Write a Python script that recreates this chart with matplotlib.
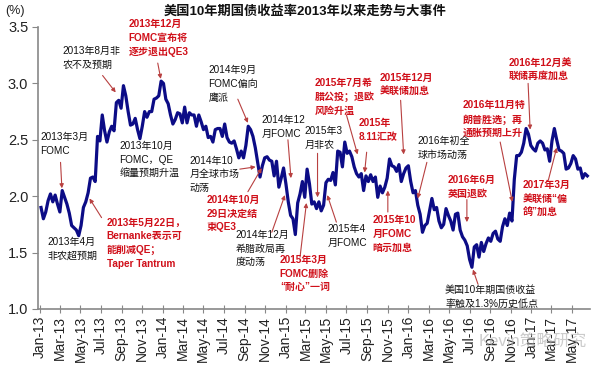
import matplotlib
matplotlib.use("Agg")
import matplotlib.pyplot as plt
import matplotlib.dates as mdates
import pandas as pd

plt.rcParams['font.family'] = ['Liberation Sans', 'Noto Sans CJK SC', 'DejaVu Sans']

# weekly (Friday) US 10Y treasury yield, %
y2013 = [1.90, 1.80, 1.86, 1.96,              # Jan
         2.02, 1.95, 2.01, 1.93,              # Feb
         1.86, 2.05, 1.99, 1.93, 1.85,        # Mar
         1.74, 1.72, 1.70, 1.65,              # Apr
         1.74, 1.90, 1.95, 2.03, 2.16,        # May
         2.17, 2.13, 2.53, 2.49,              # Jun
         2.72, 2.58, 2.48, 2.57,              # Jul
         2.62, 2.58, 2.83, 2.85, 2.78,        # Aug
         2.98, 2.89, 2.75, 2.63,              # Sep
         2.64, 2.69, 2.59, 2.51,              # Oct
         2.62, 2.75, 2.70, 2.75, 2.75,        # Nov
         2.86, 2.87, 2.89, 3.02]              # Dec
y2014 = [3.00, 2.86, 2.82, 2.72, 2.64,        # Jan
         2.68, 2.74, 2.73, 2.65,              # Feb
         2.79, 2.65, 2.74, 2.72,              # Mar
         2.72, 2.62, 2.72, 2.66,              # Apr
         2.59, 2.62, 2.52, 2.53, 2.48,        # May
         2.59, 2.60, 2.60, 2.53,              # Jun
         2.64, 2.52, 2.48, 2.47,              # Jul
         2.49, 2.42, 2.34, 2.40, 2.34,        # Aug
         2.45, 2.62, 2.59, 2.53,              # Sep
         2.43, 2.30, 2.17, 2.27, 2.34,        # Oct
         2.35, 2.32, 2.31, 2.18,              # Nov
         2.31, 2.08, 2.16, 2.25]              # Dec
y2015 = [2.11, 1.95, 1.83, 1.80, 1.66,        # Jan
         1.94, 2.02, 2.13, 1.99,              # Feb
         2.24, 2.11, 1.93, 1.95,              # Mar
         1.89, 1.95, 1.87, 1.92,              # Apr
         2.12, 2.15, 2.14, 2.21, 2.10,        # May
         2.40, 2.39, 2.26, 2.48,              # Jun
         2.38, 2.40, 2.35, 2.26, 2.20,        # Jul
         2.17, 2.20, 2.05, 2.18,              # Aug
         2.13, 2.19, 2.13, 2.17,              # Sep
         1.99, 2.09, 2.03, 2.08, 2.16,        # Oct
         2.33, 2.27, 2.26, 2.22,              # Nov
         2.28, 2.13, 2.20, 2.25]              # Dec
y2016 = [2.27, 2.13, 2.03, 2.05, 1.92,        # Jan
         1.84, 1.68, 1.74, 1.76,              # Feb
         1.87, 1.98, 1.88, 1.90,              # Mar
         1.78, 1.72, 1.75, 1.89, 1.83,        # Apr
         1.78, 1.70, 1.84, 1.85,              # May
         1.70, 1.64, 1.61, 1.56,              # Jun
         1.44, 1.37, 1.55, 1.57, 1.46,        # Jul
         1.59, 1.51, 1.58, 1.63,              # Aug
         1.60, 1.67, 1.69, 1.62, 1.60,        # Sep
         1.73, 1.80, 1.74, 1.85,              # Oct
         1.78, 2.15, 2.36, 2.36,              # Nov
         2.39, 2.47, 2.60, 2.55, 2.45]        # Dec
y2017 = [2.42, 2.40, 2.47, 2.49,              # Jan
         2.47, 2.41, 2.42, 2.31,              # Feb
         2.49, 2.60, 2.50, 2.41, 2.40,        # Mar
         2.38, 2.24, 2.25, 2.29,              # Apr
         2.36, 2.33, 2.24, 2.25,              # May
         2.16, 2.20, 2.18]                    # Jun
yields = y2013 + y2014 + y2015 + y2016 + y2017
dates = pd.date_range('2013-01-04', periods=len(yields), freq='W-FRI')

# (text, colour, text top-left (date, %), arrow tail, arrow head)
BLK = '#111111'
RED = '#d0101a'
notes = [
    ("2013年3月\nFOMC", BLK, ('2013-01-01', 2.57), ('2013-03-03', 2.30), ('2013-03-07', 2.07)),
    ("2013年4月\n非农超预期", BLK, ('2013-01-22', 1.64), None, None),
    ("2013年8月非\n农不及预期", BLK, ('2013-03-09', 3.33), ('2013-07-06', 3.07), ('2013-08-14', 2.92)),
    ("2013年12月\nFOMC宣布将\n逐步退出QE3", RED, ('2013-09-22', 3.57), ('2013-12-17', 3.18), ('2013-12-26', 3.04)),
    ("2013年10月\nFOMC，QE\n缩量预期升温", BLK, ('2013-08-25', 2.49), None, None),
    ("2013年5月22日，\nBernanke表示可\n能削减QE；\nTaper Tantrum", RED, ('2013-07-18', 1.81),
     ('2013-07-03', 1.81), ('2013-05-28', 1.98)),
    ("2014年9月\nFOMC偏向\n鹰派", BLK, ('2014-05-16', 3.16), ('2014-08-12', 2.86), ('2014-09-11', 2.65)),
    ("2014年10\n月全球市场\n动荡", BLK, ('2014-03-21', 2.36), ('2014-08-18', 2.24), ('2014-10-04', 2.26)),
    ("2014年10月\n29日决定结\n束QE3", RED, ('2014-05-10', 2.01), ('2014-09-11', 2.04), ('2014-10-22', 2.25)),
    ("2014年12\n月FOMC", BLK, ('2014-10-22', 2.72), ('2015-01-08', 2.50), ('2015-01-17', 2.16)),
    ("2014年12月\n希腊政局再\n度动荡", BLK, ('2014-08-05', 1.70), ('2014-11-21', 1.68), ('2014-12-30', 2.01)),
    ("2015年3月\nFOMC删除\n“耐心”一词", RED, ('2014-12-15', 1.48), ('2015-02-13', 1.46), ('2015-03-04', 1.94)),
    ("2015年3\n月非农", BLK, ('2015-02-27', 2.62), ('2015-04-06', 2.38), ('2015-04-06', 1.99)),
    ("2015年4\n月FOMC", BLK, ('2015-05-05', 1.75), ('2015-06-01', 1.77), ('2015-05-05', 2.01)),
    ("2015年7月希\n腊公投；退欧\n风险升温", RED, ('2015-03-28', 3.05), ('2015-07-01', 2.72), ('2015-08-03', 2.37)),
    ("2015年\n8.11汇改", RED, ('2015-08-06', 2.69), ('2015-08-30', 2.39), ('2015-08-24', 2.21)),
    ("2015年12月\n美联储加息", RED, ('2015-10-08', 3.09), ('2015-12-09', 2.85), ('2015-12-18', 2.37)),
    ("2015年10\n月FOMC\n暗示加息", RED, ('2015-09-17', 1.83), ('2015-11-01', 1.86), ('2015-11-01', 2.05)),
    ("2016年初全\n球市场动荡", BLK, ('2016-01-29', 2.53), ('2016-02-25', 2.30), ('2016-01-29', 1.98)),
    ("2016年6月\n英国退欧", RED, ('2016-04-28', 2.19), ('2016-06-23', 1.97), ('2016-06-23', 1.77)),
    ("美国10年期国债收益\n率触及1.3%历史低点", BLK, ('2016-04-19', 1.21), ('2016-07-26', 1.22), ('2016-07-11', 1.35)),
    ("2016年11月特\n朗普胜选；再\n通胀预期上升", RED, ('2016-06-11', 2.85), ('2016-09-30', 2.48), ('2016-11-05', 1.95)),
    ("2016年12月美\n联储再度加息", RED, ('2016-10-24', 3.23), ('2016-12-22', 3.00), ('2016-12-28', 2.59)),
    ("2017年3月\n美联储“偏\n鸽”加息", RED, ('2016-12-07', 2.14), ('2017-02-20', 2.14), ('2017-03-17', 2.43)),
]

fig = plt.figure(figsize=(5.98, 3.65), dpi=100)
ax = fig.add_axes([38 / 598, 1 - 309 / 365, 552 / 598, 282 / 365])

ax.plot(dates, yields, color='#0c0c86', lw=2.3, solid_joinstyle='round', zorder=3)

ax.set_xlim(pd.Timestamp('2012-12-26'), pd.Timestamp('2017-06-24'))
ax.set_ylim(1.0, 3.5)
ax.set_yticks([1.0, 1.5, 2.0, 2.5, 3.0, 3.5])
ax.yaxis.set_major_formatter(matplotlib.ticker.FormatStrFormatter('%.1f'))
ax.xaxis.set_major_locator(mdates.MonthLocator(bymonth=[1, 3, 5, 7, 9, 11]))
ax.xaxis.set_major_formatter(mdates.DateFormatter('%b-%y'))
ax.tick_params(axis='x', rotation=90, labelsize=10, direction='inout', length=6,
               color='#888888', labelcolor='#222222', pad=2)
ax.tick_params(axis='y', labelsize=10.5, direction='out', length=4,
               color='#888888', labelcolor='#222222', pad=3)
for s in ['top', 'right']:
    ax.spines[s].set_visible(False)
for s in ['left', 'bottom']:
    ax.spines[s].set_color('#888888')
    ax.spines[s].set_linewidth(1.2)

for text, col, pos, tail, head in notes:
    ax.text(pd.Timestamp(pos[0]), pos[1], text, color=col, fontsize=7.2,
            va='top', ha='left', linespacing=1.45, zorder=5,
            fontweight='bold' if col == RED else 'normal')
    if tail is not None:
        ax.annotate('', xy=(pd.Timestamp(head[0]), head[1]),
                    xytext=(pd.Timestamp(tail[0]), tail[1]),
                    arrowprops=dict(arrowstyle='-|>', color='#b84040', lw=0.8,
                                    mutation_scale=6, shrinkA=0, shrinkB=0),
                    zorder=4)

fig.text(5 / 598, 1 - 11 / 365, '(%)', fontsize=9, va='center', ha='left', color='#222222')
fig.text(305 / 598, 1 - 11 / 365, '美国10年期国债收益率2013年以来走势与大事件',
         fontsize=9.5, fontweight='bold', ha='center', va='center', color='#111111')
# faint watermark in the lower-right corner, as in the source image
fig.text(0.80, 0.065, 'Kevin策略研究', fontsize=12, color='#aaaaaa', alpha=0.6,
         ha='left', va='center', zorder=10)

fig.savefig('out.png', dpi=100)
